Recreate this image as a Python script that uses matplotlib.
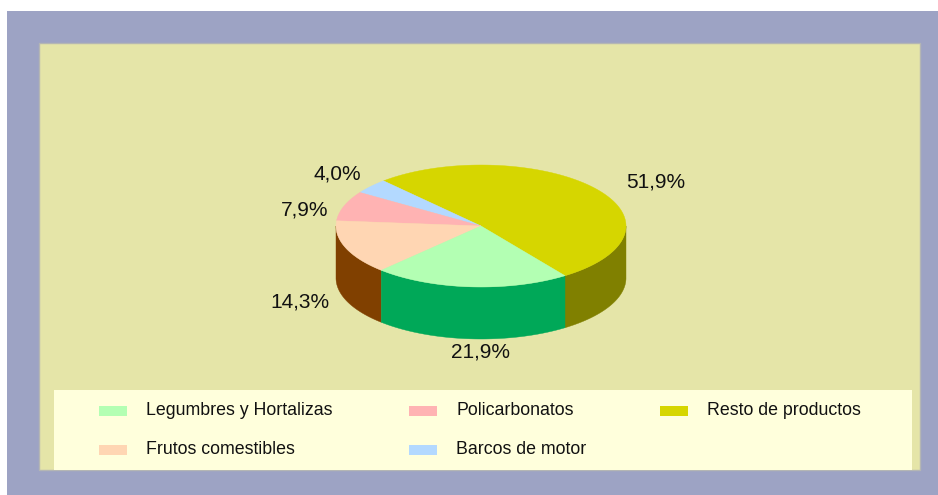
import numpy as np
import matplotlib
matplotlib.use("Agg")
import matplotlib.pyplot as plt
from matplotlib.patches import Rectangle, Polygon

plt.rcParams['font.family'] = ['Liberation Sans', 'DejaVu Sans']

categories = ["Legumbres y Hortalizas", "Resto de productos", "Barcos de motor", "Policarbonatos", "Frutos comestibles"]
values = [21.9, 51.9, 4.0, 7.9, 14.3]
value_labels = ["21,9%", "51,9%", "4,0%", "7,9%", "14,3%"]
top_colors = ["#b3ffb3", "#d6d600", "#b3d9ff", "#ffb3b3", "#ffd6b3"]
side_colors = ["#00a858", "#808000", "#5f7f9f", "#7f5f5f", "#804000"]
label_pos = [(480, 352.5), (656, 182.5), (337, 174.5), (305, 209.5), (300, 301.5)]

# legend order in the picture
legend_items = [
    (0, 99, 411), (3, 409, 411), (1, 660, 411),
    (4, 99, 450), (2, 409, 450),
]

W, H = 938, 495
fig = plt.figure(figsize=(W / 100, H / 100), dpi=100, facecolor="white")
ax = fig.add_axes([0, 0, 1, 1])
ax.set_xlim(0, W)
ax.set_ylim(H, 0)
ax.axis("off")

# frames
ax.add_patch(Rectangle((7, 11), W - 7, H - 11, fc="#9da3c4", ec="none"))
ax.add_patch(Rectangle((39, 43), 881, 427, fc="#e5e5a8", ec="#b4b6b4", lw=1))
ax.add_patch(Rectangle((54, 390), 858, 79.5, fc="#ffffdc", ec="none"))

cx, cy, rx, ry, depth = 481, 226, 145, 61, 52
start = -54.6


def rim(a0, a1):
    t = np.radians(np.linspace(a0, a1, 200))
    return np.column_stack([cx + rx * np.cos(t), cy - ry * np.sin(t)])


# slices run counter-clockwise from the start angle, yellow first
order = [1, 2, 3, 4, 0]
angle = start
spans = {}
for i in order:
    span = values[i] / sum(values) * 360
    spans[i] = (angle, angle + span)
    angle += span

# walls, only the front half shows
for i in order:
    a0, a1 = spans[i]
    for shift in (0, 360):
        lo = max(a0 + shift, 180)
        hi = min(a1 + shift, 360)
        if hi > lo:
            edge = rim(lo, hi)
            wall = np.vstack([edge, (edge + [0, depth])[::-1]])
            ax.add_patch(Polygon(wall, closed=True, fc=side_colors[i], ec=side_colors[i], lw=0.3))

# top
for i in order:
    a0, a1 = spans[i]
    pts = np.vstack([[cx, cy], rim(a0, a1)])
    ax.add_patch(Polygon(pts, closed=True, fc=top_colors[i], ec=top_colors[i], lw=0.3))

for txt, (x, y) in zip(value_labels, label_pos):
    ax.text(x, y, txt, fontsize=15, color="#111111", ha="center", va="center")

for i, x, y in legend_items:
    ax.add_patch(Rectangle((x, y - 5), 28, 10, fc=top_colors[i], ec="none"))
    ax.text(x + 47, y - 0.5, categories[i], fontsize=12.75, color="#111111", ha="left", va="center")

fig.savefig("out.png", dpi=100)
